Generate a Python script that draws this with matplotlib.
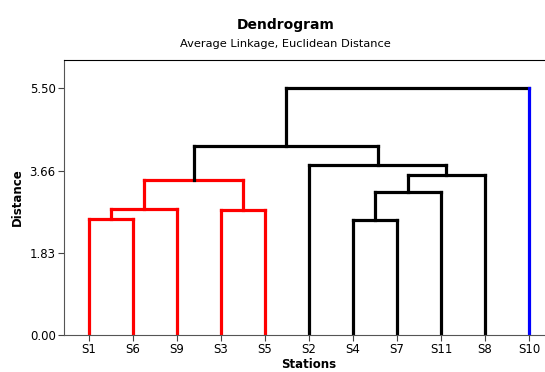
import matplotlib
matplotlib.use('Agg')
import matplotlib.pyplot as plt

# leaf order along the x axis
leaves = ['S1', 'S6', 'S9', 'S3', 'S5', 'S2', 'S4', 'S7', 'S11', 'S8', 'S10']

# merges: (left child, right child, distance)
merge_left = ['S1', 'c1', 'S3', 'c2', 'S4', 'c5', 'c6', 'S2', 'c4', 'c9']
merge_right = ['S6', 'S9', 'S5', 'c3', 'S7', 'S11', 'S8', 'c7', 'c8', 'S10']
merge_dist = [2.58, 2.81, 2.78, 3.45, 2.55, 3.18, 3.55, 3.79, 4.21, 5.50]
# colour of (left leg, bar, right leg)
merge_colors = [('red',) * 3] * 4 + [('black',) * 3] * 5 + [('black', 'black', 'blue')]

yticks = [0.00, 1.83, 3.66, 5.50]

fig = plt.figure(figsize=(5.45, 3.72), dpi=100)
ax = fig.add_axes([64 / 545, 37 / 372, 490 / 545, 275 / 372])

pos = {name: (i, 0.0) for i, name in enumerate(leaves)}
for k, (a, b, d) in enumerate(zip(merge_left, merge_right, merge_dist)):
    xa, ya = pos[a]
    xb, yb = pos[b]
    cl, cb, cr = merge_colors[k]
    kw = dict(lw=2.3, solid_capstyle='projecting', solid_joinstyle='miter')
    ax.plot([xa, xa], [ya, d], color=cl, **kw)
    ax.plot([xa, xb], [d, d], color=cb, **kw)
    ax.plot([xb, xb], [yb, d], color=cr, **kw)
    pos['c%d' % (k + 1)] = ((xa + xb) / 2, d)

ax.set_xlim(-0.57, 10.57)
ax.set_ylim(0, 6.12)
ax.set_xticks(range(len(leaves)))
ax.set_xticklabels(leaves, fontsize=8.5)
ax.set_yticks(yticks)
ax.set_yticklabels(['%.2f' % v for v in yticks], fontsize=8.5)
ax.tick_params(length=4, width=0.8, color='#444444', pad=2)
for side in ['left', 'bottom']:
    ax.spines[side].set_color('#555555')
ax.spines['top'].set_color('black')
ax.spines['right'].set_visible(False)

ax.set_xlabel('Stations', fontsize=8.5, fontweight='bold', labelpad=1)
ax.set_ylabel('Distance', fontsize=8.5, fontweight='bold', labelpad=4)

fig.text(286, 372 - 25, 'Dendrogram', transform=None, ha='center', va='center',
         fontsize=10, fontweight='bold')
fig.text(285, 372 - 44, 'Average Linkage, Euclidean Distance', transform=None,
         ha='center', va='center', fontsize=8.2)

fig.savefig('out.png', dpi=100)
